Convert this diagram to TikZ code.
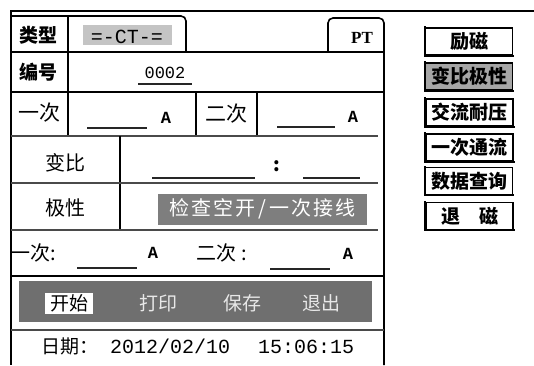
\documentclass[tikz,border=0pt]{standalone}
\usepackage{fontspec}
\setmainfont{Liberation Serif}
\newfontfamily\cjk{Noto Sans CJK SC}
\newfontfamily\mono{Liberation Mono}
\newcommand{\fs}[1]{\fontsize{#1}{#1}\selectfont}
\newcommand{\wc}[1]{\makebox[22pt]{#1}}
\definecolor{ctgrey}{HTML}{C4C4C4}
\definecolor{selgrey}{HTML}{A6A6A6}
\definecolor{boxgrey}{HTML}{7E7E7E}
\definecolor{bargrey}{HTML}{6F6F6F}
\definecolor{bartext}{HTML}{E8E8E8}
\definecolor{hairc}{HTML}{4A4A4A}
\tikzset{
  frame/.style={line width=1.6pt, draw=black},
  heavy/.style={line width=2.2pt, draw=black},
  hair/.style={line width=1.3pt, draw=hairc},
  uline/.style={line width=1.7pt, draw=black!85},
  lab/.style={inner sep=0pt, font=\cjk\fs{19}},
  labb/.style={inner sep=0pt, font=\cjk\bfseries\fs{19}},
  amp/.style={inner sep=0pt, anchor=base, font=\mono\bfseries\fs{17}},
  rbtn/.style={draw=black, line width=1.2pt, minimum width=87pt, minimum height=27pt,
    inner sep=0pt, font=\cjk\bfseries\fs{19}},
  barlab/.style={inner sep=0pt, font=\cjk\fs{19}, text=bartext},
}
\begin{document}
\begin{tikzpicture}[x=1pt,y=-1pt]
\useasboundingbox (0,0) rectangle (534,365);
% grey fills
\node[fill=ctgrey, minimum width=89pt, minimum height=20pt, inner sep=0pt] (ctbox) at (127.5,35) {};
\node[fill=boxgrey, minimum width=209pt, minimum height=31pt, inner sep=0pt] (chkbox) at (262,209) {};
\node[fill=bargrey, minimum width=353pt, minimum height=41pt, inner sep=0pt] (bar) at (195.5,301.5) {};
\node[fill=white, minimum width=48pt, minimum height=21pt, inner sep=0pt] (startbox) at (69,303.5) {};
% frame lines
\draw[frame] (10,11) -- (534,11);
\draw[frame] (11,11) -- (11,365);
\draw[frame, rounded corners=5pt] (11,16) -- (186,16) -- (186,52);
\draw[frame, rounded corners=5pt] (328,52) -- (328,18) -- (384,18) -- (384,365);
\draw[heavy] (11,52) -- (384,52);
\draw[heavy] (11,92) -- (384,92);
\draw[frame] (68,16) -- (68,136);
\draw[frame] (196,92) -- (196,136);
\draw[frame] (257,92) -- (257,136);
\draw[hair] (11,136) -- (378,136);
\draw[frame] (120,136) -- (120,230);
\draw[hair] (11,183) -- (378,183);
\draw[hair] (11,230) -- (378,230);
\draw[heavy] (11,276) -- (384,276);
\draw[hair] (11,330) -- (384,330);
% underlines
\draw[uline] (138,84) -- (192,84);
\draw[uline] (87,128) -- (147,128);
\draw[uline] (277,127) -- (335,127);
\draw[uline] (152,178) -- (255,178);
\draw[uline] (303,178) -- (360,178);
\draw[uline] (77,268) -- (137,268);
\draw[uline] (270,269) -- (330,269);
% texts
\node[labb] (tlx) at (38,35) {类型};
\node[inner sep=0pt, anchor=base, font=\mono\fs{20}] (ct) at (127,43) {=-CT-=};
\node[inner sep=0pt, anchor=base, font=\bfseries\fs{17}] (pt) at (362,43) {PT};
\node[labb] (bh) at (38,72) {编号};
\node[inner sep=0pt, anchor=base, font=\mono\fs{17}] (num) at (165,78) {0002};
\node[lab, font=\cjk\fs{21}] (yc) at (39,113) {一次};
\node[amp] (a1) at (166,123) {A};
\node[lab, font=\cjk\fs{21}] (ec) at (226,114) {二次};
\node[amp] (a2) at (353,122) {A};
\node[lab, font=\cjk\fs{20}] (bb) at (65,163) {变比};
\node[inner sep=0pt, font=\cjk\bfseries\fs{19}] (colon) at (277,166) {:};
\node[lab, font=\cjk\fs{20}] (jx) at (65,208) {极性};
\node[inner sep=0pt, font=\cjk\fs{20}, text=white] (chk) at (chkbox.center)
  {\wc{检}\wc{查}\wc{空}\wc{开}\makebox[12pt]{/}\wc{一}\wc{次}\wc{接}\wc{线}};
\node[lab, font=\cjk\fs{20}, anchor=west] (yc2) at (10,253) {一次:};
\node[amp] (a3) at (153,258) {A};
\node[lab, font=\cjk\fs{20}, anchor=west] (ec2) at (196,253) {二次\hspace{5pt}:};
\node[amp] (a4) at (348,259) {A};
% bar buttons
\node[inner sep=0pt, font=\cjk\fs{19}] (start) at (startbox.center) {开始};
\node[barlab] (print) at (158,303) {打印};
\node[barlab] (save) at (242,303) {保存};
\node[barlab] (quit) at (321,303) {退出};
% date
\node[inner sep=0pt, anchor=base west] (date) at (41,353)
  {\makebox[69pt][l]{\cjk\fs{19}日期：}{\mono\fs{20}2012/02/10}\hspace{28pt}{\mono\fs{20}15:06:15}};
% right buttons
\node[rbtn] (b1) at (469,41.5) {励磁};
\node[rbtn, fill=selgrey] (b2) at (469,76.5) {变比极性};
\node[rbtn] (b3) at (469.5,112.5) {交流耐压};
\node[rbtn] (b4) at (469.5,147.5) {一次通流};
\node[rbtn] (b5) at (469,181) {数据查询};
\node[rbtn] (b6) at (469.5,216) {退　磁};
\foreach \b in {b1,b2,b3,b4,b5,b6}{
  \draw[line width=1.9pt, line cap=rect] (\b.north west) -- (\b.south west) -- (\b.south east);
}
\end{tikzpicture}
\end{document}
